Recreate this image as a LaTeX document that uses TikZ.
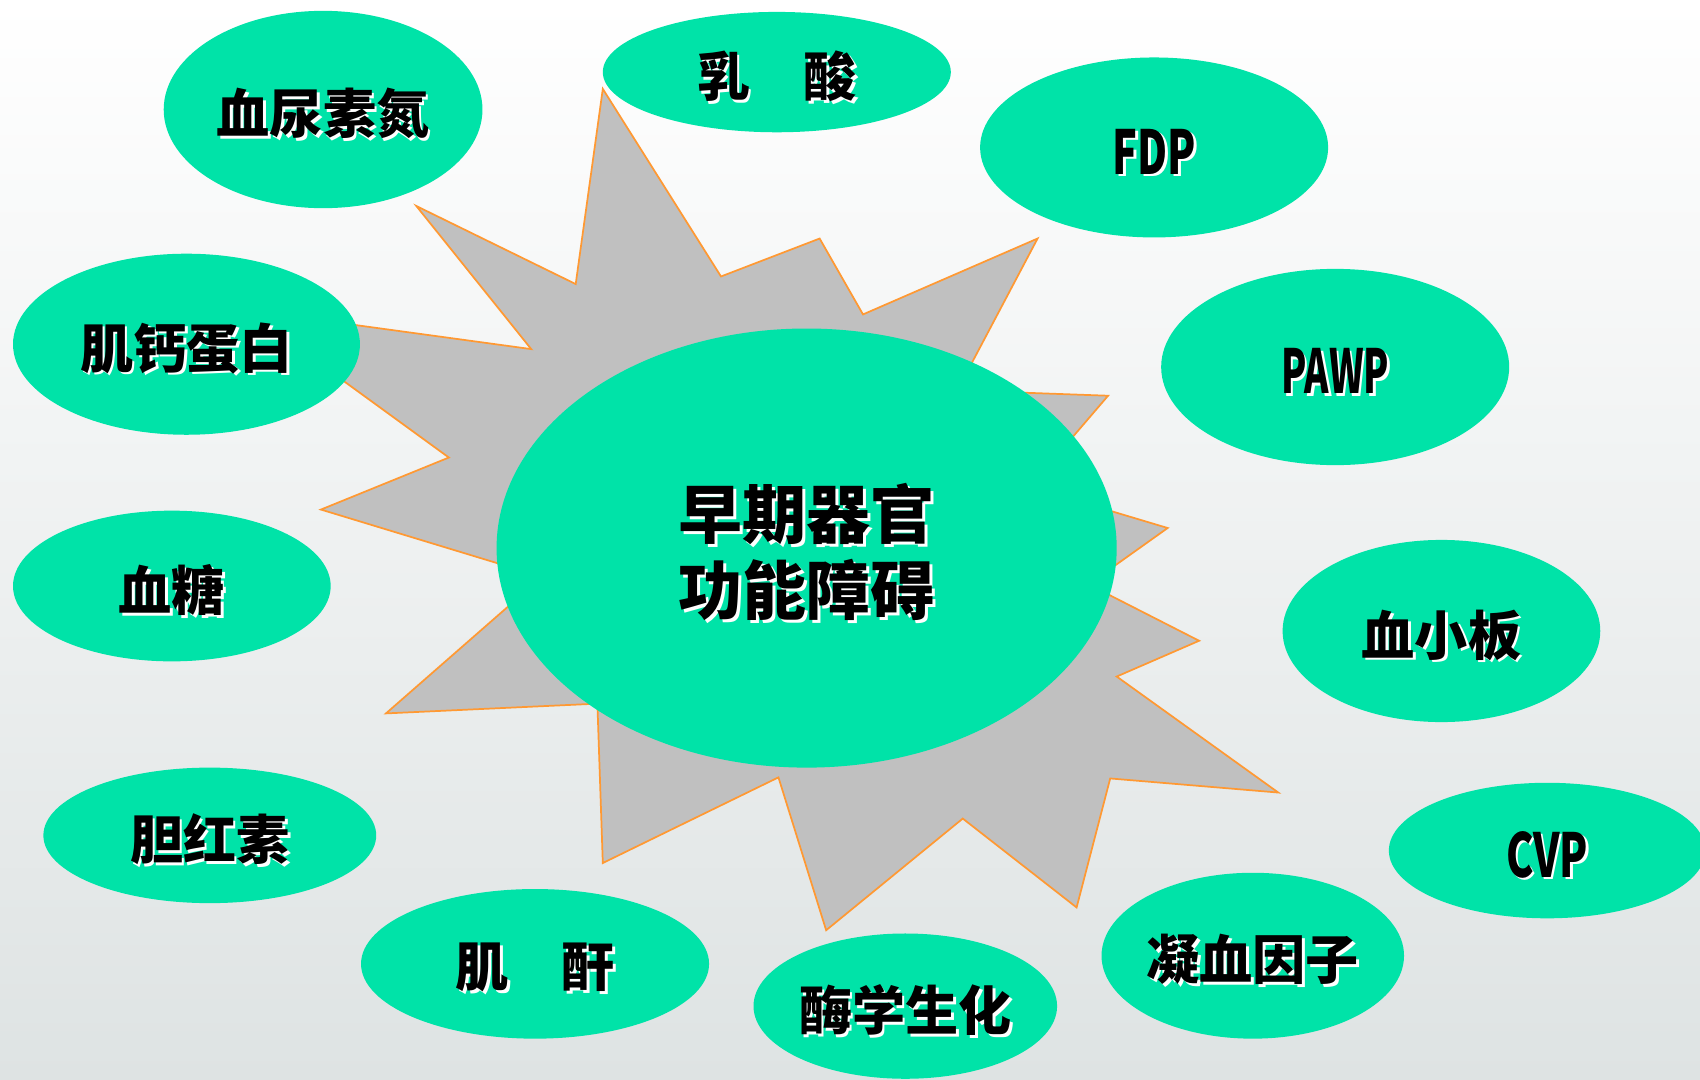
\documentclass[tikz,border=0pt]{standalone}
\usepackage{fontspec}
\usepackage{graphicx}
\usetikzlibrary{shapes.geometric}
\newfontfamily\cjk{Noto Sans CJK SC}
\definecolor{bubble}{RGB}{0,227,168}
\definecolor{starfill}{RGB}{192,192,192}
\definecolor{starline}{RGB}{255,153,51}
\definecolor{bgbottom}{RGB}{222,227,227}
\newcommand\shtxt[1]{\raisebox{-5pt}[\height][\depth]{\rlap{\kern2.5pt\raisebox{-2.5pt}{\color{white}#1}}#1}}
\newcommand\latn[2][0.68]{\scalebox{#1}[1]{\fontsize{56}{60}\selectfont#2}}
\tikzset{
  bub/.style={ellipse, fill=bubble, inner sep=0pt, font=\cjk\bfseries\fontsize{49}{55}\selectfont, text=black},
}
\begin{document}
\begin{tikzpicture}[x=1pt,y=-1pt]
\useasboundingbox (0,0) rectangle (1568,996);
\shade[top color=white, bottom color=bgbottom] (0,0) rectangle (1568,996);
% star burst
\draw[fill=starfill, draw=starline, line width=1.6pt, line join=miter]
 (556,82) -- (665,255) -- (756,220) -- (796,290) -- (957,220) -- (883,360)
 -- (1022,365) -- (950,449) -- (1077,487) -- (1004,539) -- (1106,591)
 -- (1030,624) -- (1179,731) -- (1024,718) -- (993,837) -- (888,755)
 -- (762,858) -- (718,717) -- (556,796) -- (551,649) -- (356,658)
 -- (500,532) -- (296,470) -- (414,422) -- (227,286) -- (490,322)
 -- (384,190) -- (531,262) -- cycle;
% outer bubbles
\node[bub, minimum width=294pt, minimum height=182pt] (bun) at (298,101) {\shtxt{血尿素氮}};
\node[bub, minimum width=321pt, minimum height=111pt] (lac) at (716.5,66.5) {\shtxt{乳　酸}};
\node[bub, minimum width=321pt, minimum height=166pt] (fdp) at (1064.5,136) {\shtxt{\latn{FDP}}};
\node[bub, minimum width=321pt, minimum height=181pt] (pawp) at (1231.5,338.5) {\shtxt{\latn[0.61]{PAWP}}};
\node[bub, minimum width=320pt, minimum height=167pt] (ctn) at (172,317.5) {\shtxt{肌钙蛋白}};
\node[bub, minimum width=293pt, minimum height=139pt] (glu) at (158.5,540.5) {\shtxt{血糖}};
\node[bub, minimum width=293pt, minimum height=168pt] (plt) at (1329.5,582) {\shtxt{血小板}};
\node[bub, minimum width=307pt, minimum height=125pt] (bil) at (193.5,770.5) {\shtxt{胆红素}};
\node[bub, minimum width=292pt, minimum height=125pt] (cvp) at (1427,784.5) {\shtxt{\latn{CVP}}};
\node[bub, minimum width=321pt, minimum height=138pt] (cr) at (493.5,889) {\shtxt{肌　酐}};
\node[bub, minimum width=280pt, minimum height=134pt] (enz) at (835,928) {\shtxt{酶学生化}};
\node[bub, minimum width=279pt, minimum height=153pt] (coag) at (1155.5,881.5) {\shtxt{凝血因子}};
% central bubble
\node[bub, minimum width=572pt, minimum height=405pt, align=center,
      font=\cjk\bfseries\fontsize{59}{70}\selectfont] (core) at (744,505.5)
      {\shtxt{早期器官}\\\shtxt{功能障碍}};
\end{tikzpicture}
\end{document}
